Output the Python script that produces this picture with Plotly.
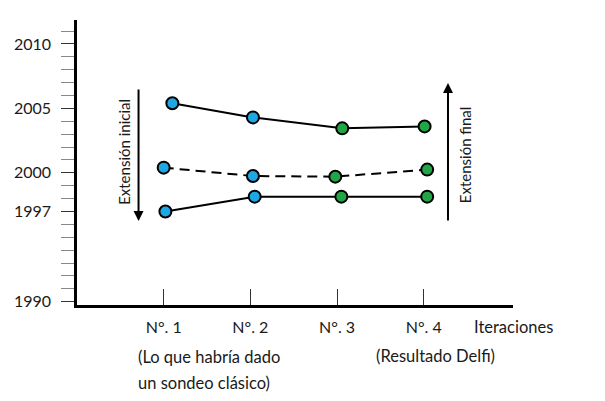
import plotly.graph_objects as go

# Data (years estimated per iteration)
iterations = ["N°. 1", "N°. 2", "N°. 3", "N°. 4"]
iter_pos = [1, 2, 3, 4]
upper_x = [1.10, 2.03, 3.06, 4.01]
upper_y = [2005.4, 2004.3, 2003.45, 2003.6]
median_x = [1.00, 2.03, 2.98, 4.04]
median_y = [2000.4, 1999.75, 1999.7, 2000.25]
lower_x = [1.02, 2.05, 3.05, 4.04]
lower_y = [1997.0, 1998.15, 1998.15, 1998.15]
point_colors = ["#1DA8E4", "#1DA8E4", "#21A546", "#21A546"]
year_ticks = [1990, 1997, 2000, 2005, 2010]

FONT = "Lato"
TXT = "#1a1a1a"

fig = go.Figure()
for xs, ys, dash in [(upper_x, upper_y, "solid"), (median_x, median_y, "dash"), (lower_x, lower_y, "solid")]:
    fig.add_trace(go.Scatter(
        x=xs, y=ys, mode="lines+markers",
        line=dict(color="black", width=2, dash=dash if dash == "solid" else "10px,6px"),
        marker=dict(size=12, color=point_colors, line=dict(color="black", width=2)),
        showlegend=False, cliponaxis=False,
    ))

fig.update_xaxes(
    range=[0.0, 5.03], showgrid=False, zeroline=False, automargin=False,
    showline=True, linecolor="black", linewidth=2.5,
    tickvals=iter_pos, ticktext=iterations, ticks="inside", ticklen=16,
    tickcolor="#333", tickwidth=1, ticklabelstandoff=6,
    tickfont=dict(family=FONT, size=16, color=TXT),
)
fig.update_yaxes(
    range=[1989.74, 2011.86], showgrid=False, zeroline=False, automargin=False,
    showline=True, linecolor="black", linewidth=2.5,
    tickvals=year_ticks, ticks="outside", ticklen=13, tickcolor="#333", tickwidth=1.2,
    ticklabelstandoff=7,
    minor=dict(dtick=1, ticks="outside", ticklen=13, tickcolor="#888", tickwidth=1.2, showgrid=False),
    tickfont=dict(family=FONT, size=16, color=TXT),
)

PH = 285.0  # plot-area height in px
PW = 436.0  # plot-area width in px


def below(px):
    return -px / PH


ann = []
# arrows
ann.append(dict(x=0.71, y=1996.26, ax=0.71, ay=2006.59, xref="x", yref="y", axref="x", ayref="y",
                showarrow=True, arrowhead=2, arrowsize=1, arrowwidth=2, arrowcolor="black", text=""))
ann.append(dict(x=4.28, y=2006.97, ax=4.28, ay=1996.19, xref="x", yref="y", axref="x", ayref="y",
                showarrow=True, arrowhead=2, arrowsize=1, arrowwidth=2, arrowcolor="black", text=""))
ann.append(dict(x=0.55, y=2001.6, xref="x", yref="y", text="Extensión inicial", textangle=-90,
                showarrow=False, font=dict(family=FONT, size=15, color=TXT)))
ann.append(dict(x=4.47, y=2001.4, xref="x", yref="y", text="Extensión final", textangle=-90,
                showarrow=False, font=dict(family=FONT, size=15, color=TXT)))
ann.append(dict(x=(514 - 77) / PW, y=below(22), xref="paper", yref="paper", text="Iteraciones",
                showarrow=False, xanchor="center", yanchor="middle",
                font=dict(family=FONT, size=16.5, color=TXT)))
ann.append(dict(x=0.68, y=below(52), xref="x", yref="paper", xanchor="left", yanchor="middle",
                text="(Lo que habría dado", showarrow=False, font=dict(family=FONT, size=16.5, color=TXT)))
ann.append(dict(x=0.68, y=below(78), xref="x", yref="paper", xanchor="left", yanchor="middle",
                text="un sondeo clásico)", showarrow=False, font=dict(family=FONT, size=16.5, color=TXT)))
ann.append(dict(x=4.14, y=below(51), xref="x", yref="paper", yanchor="middle",
                text="(Resultado Delfi)", showarrow=False, font=dict(family=FONT, size=16.5, color=TXT)))

fig.update_layout(
    width=605, height=401, margin=dict(l=69, r=100, t=12, b=104),
    paper_bgcolor="white", plot_bgcolor="white", annotations=ann,
)
fig.write_html("out.html")
